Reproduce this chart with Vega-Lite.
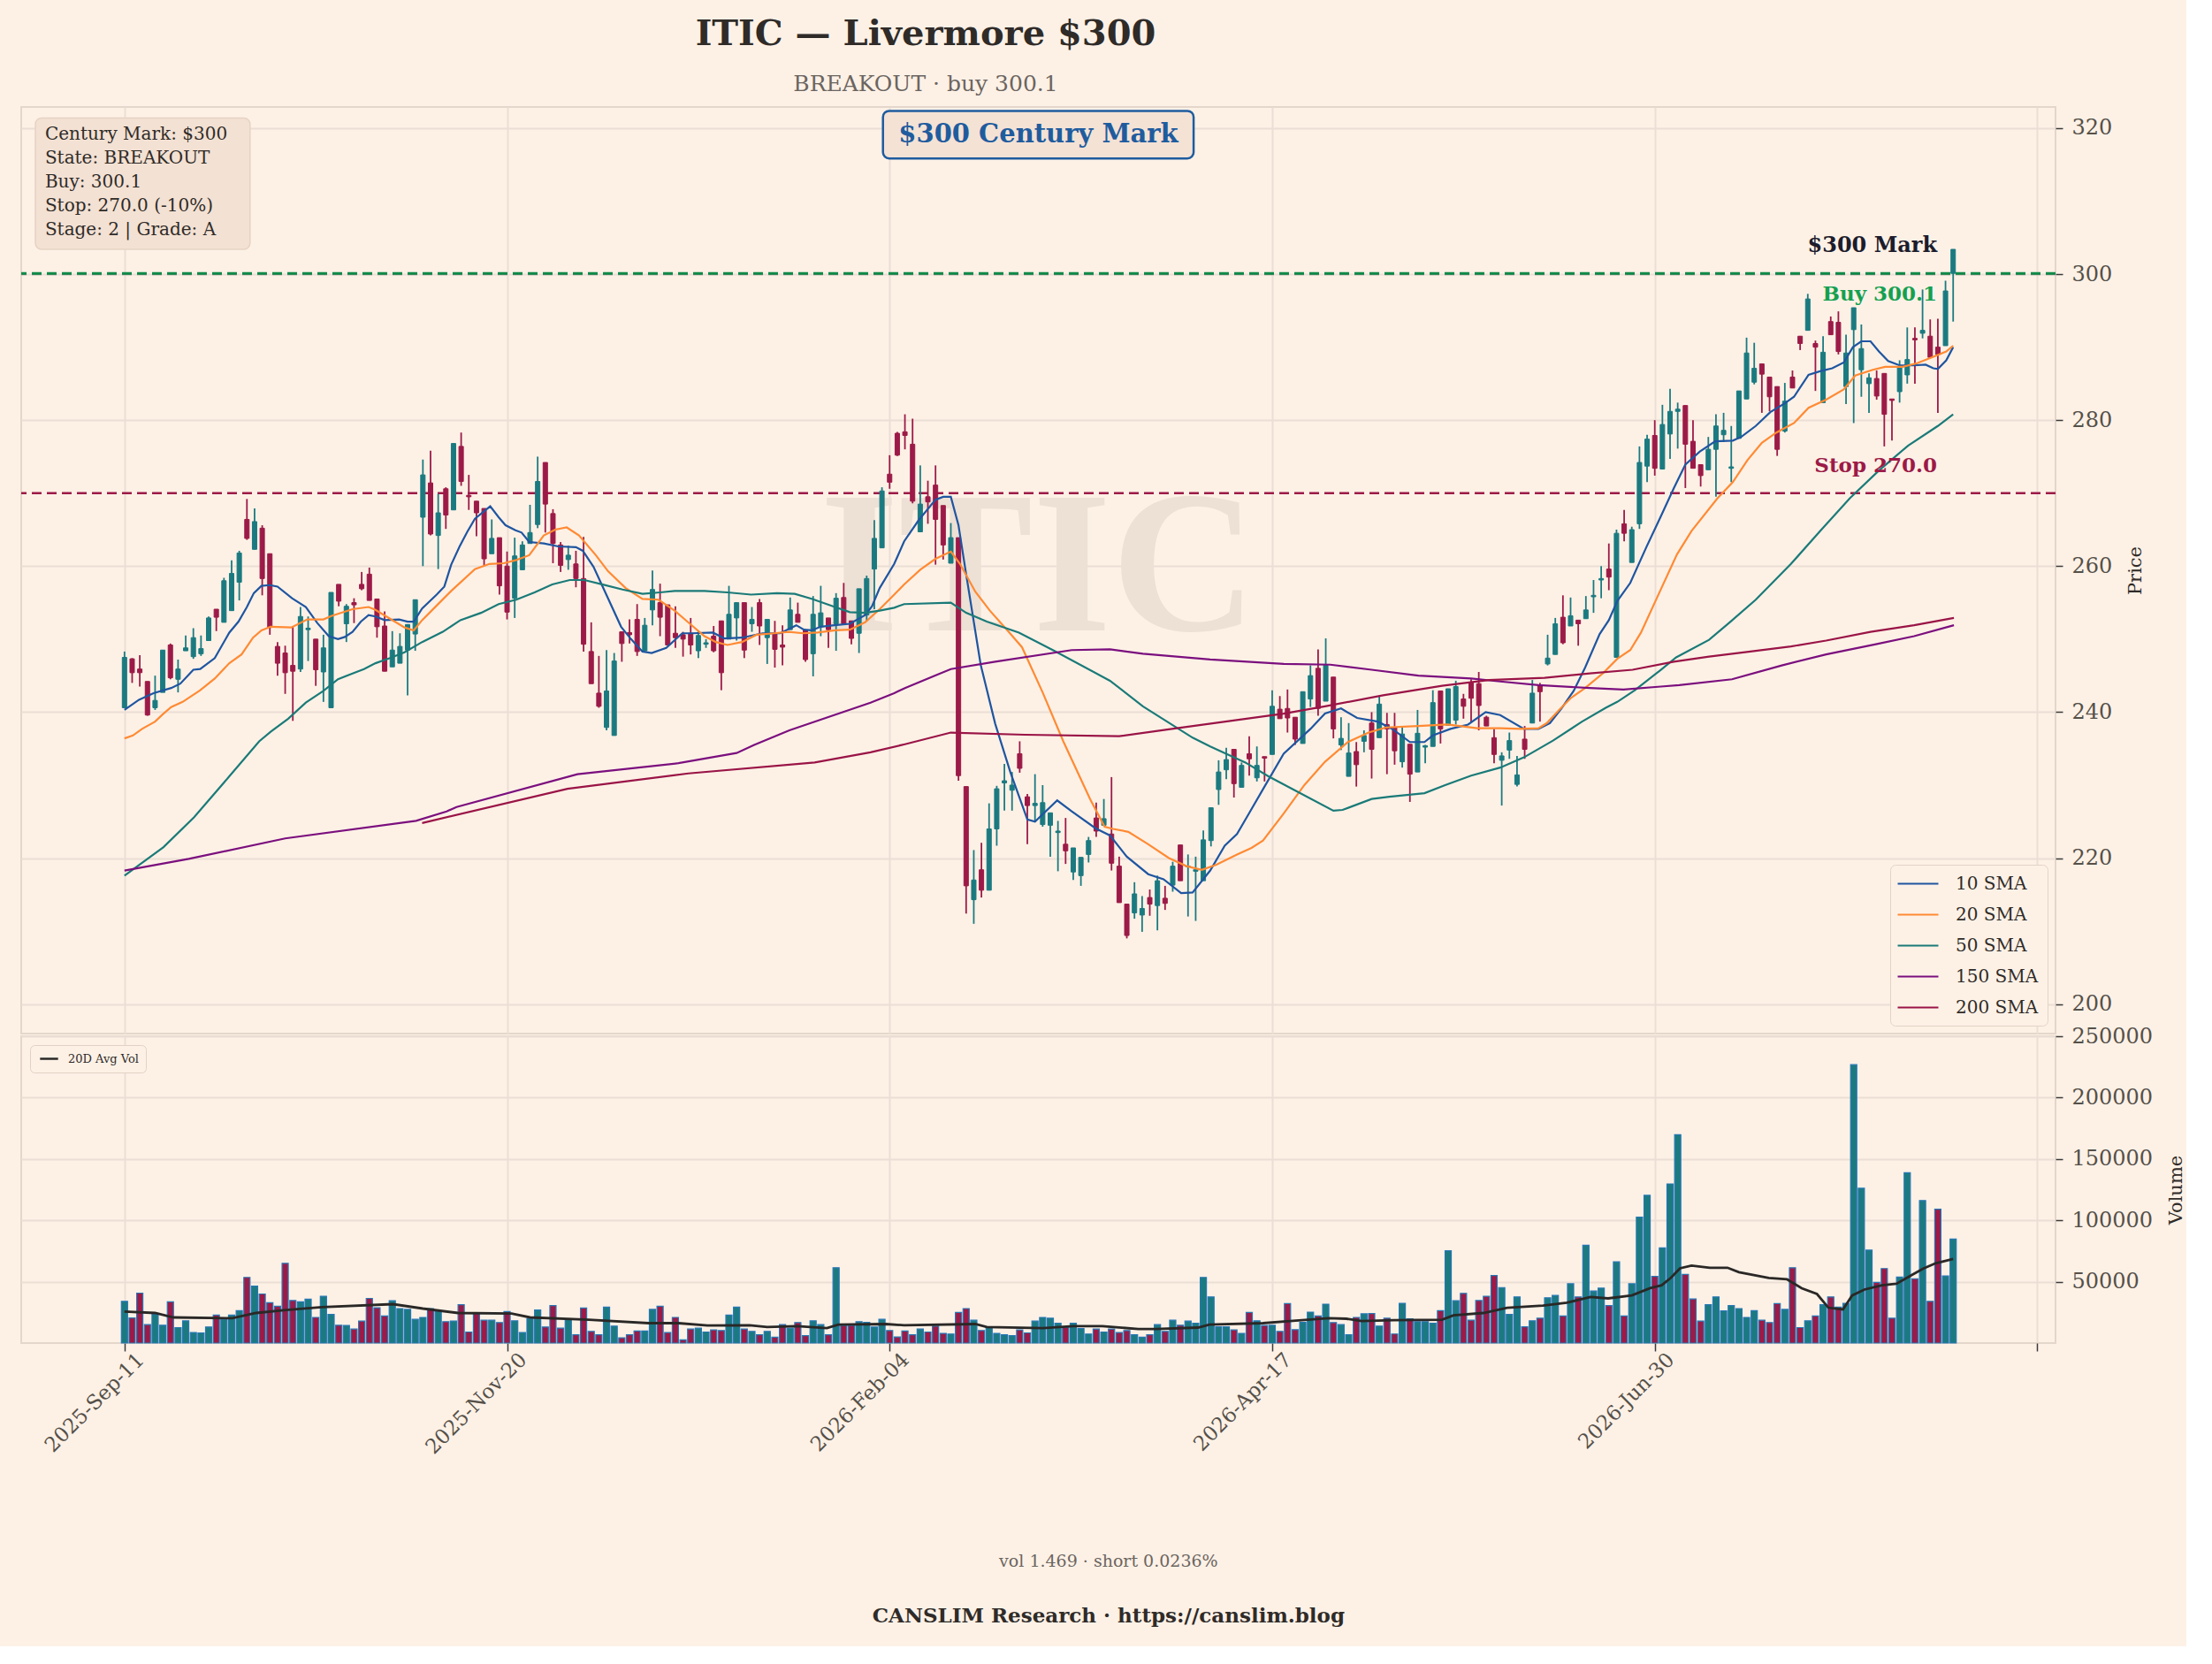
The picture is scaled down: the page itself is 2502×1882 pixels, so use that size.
{
"$schema": "https://vega.github.io/schema/vega-lite/v6.json",
"background": "#fdf1e6",
"padding": {"left": 21, "top": 19, "right": 0, "bottom": 0},
"config": {
 "font": "DejaVu Serif",
 "view": {"stroke": "#e4d6ca", "strokeWidth": 2},
 "axis": {"gridColor": "#ebdfd5", "gridWidth": 2, "labelColor": "#555049", "labelFontSize": 24, "tickColor": "#3a3a3a", "tickWidth": 1.5, "tickSize": 8, "titleColor": "#2f2b28", "titleFontSize": 21, "titleFontWeight": "normal", "labelOverlap": false, "labelFlush": false, "labelBound": false}
},
"title": {"text": "ITIC — Livermore $300", "subtitle": "BREAKOUT · buy 300.1", "anchor": "start", "align": "center", "dx": 1023, "frame": "group", "font": "DejaVu Serif", "fontSize": 40, "fontWeight": "bold", "color": "#2f2b28", "subtitleFont": "DejaVu Serif", "subtitleFontSize": 25, "subtitleColor": "#6b6560", "subtitlePadding": 24, "offset": 12},
"datasets": {
"bars": [
{"i":0,"o":240.6,"h":248.3,"l":240.6,"c":247.5,"v":34000},
{"i":1,"o":247.3,"h":247.4,"l":244.0,"c":245.4,"v":20500},
{"i":2,"o":245.9,"h":247.8,"l":243.5,"c":245.4,"v":40700},
{"i":3,"o":244.2,"h":244.2,"l":239.5,"c":239.6,"v":15000},
{"i":4,"o":240.6,"h":245.0,"l":240.3,"c":241.6,"v":23300},
{"i":5,"o":242.7,"h":248.5,"l":242.7,"c":248.5,"v":14500},
{"i":6,"o":249.2,"h":249.4,"l":244.5,"c":244.7,"v":33600},
{"i":7,"o":244.5,"h":247.2,"l":242.7,"c":245.9,"v":12600},
{"i":8,"o":248.4,"h":250.5,"l":248.4,"c":248.8,"v":18100},
{"i":9,"o":247.6,"h":251.5,"l":247.3,"c":250.2,"v":8600},
{"i":10,"o":248.0,"h":250.5,"l":247.7,"c":248.7,"v":8300},
{"i":11,"o":249.8,"h":253.1,"l":249.8,"c":252.9,"v":13100},
{"i":12,"o":254.1,"h":254.1,"l":251.1,"c":253.0,"v":22800},
{"i":13,"o":252.3,"h":258.4,"l":252.3,"c":258.0,"v":19300},
{"i":14,"o":253.9,"h":260.8,"l":253.9,"c":259.0,"v":22800},
{"i":15,"o":257.8,"h":262.1,"l":255.3,"c":261.8,"v":26400},
{"i":16,"o":266.4,"h":269.2,"l":263.6,"c":263.8,"v":53500},
{"i":17,"o":262.3,"h":267.9,"l":262.3,"c":266.1,"v":46400},
{"i":18,"o":265.2,"h":265.6,"l":256.0,"c":258.3,"v":40000},
{"i":19,"o":261.7,"h":261.7,"l":250.6,"c":251.6,"v":32800},
{"i":20,"o":249.0,"h":249.6,"l":245.0,"c":246.7,"v":30000},
{"i":21,"o":248.1,"h":249.1,"l":242.5,"c":245.4,"v":65000},
{"i":22,"o":246.4,"h":251.8,"l":238.8,"c":245.6,"v":34700},
{"i":23,"o":245.9,"h":254.4,"l":245.5,"c":253.1,"v":33600},
{"i":24,"o":251.3,"h":253.1,"l":247.0,"c":251.5,"v":35700},
{"i":25,"o":250.0,"h":250.0,"l":243.6,"c":245.8,"v":20900},
{"i":26,"o":245.5,"h":250.6,"l":241.4,"c":248.8,"v":38100},
{"i":27,"o":240.6,"h":256.4,"l":240.6,"c":256.4,"v":23300},
{"i":28,"o":257.5,"h":257.5,"l":254.5,"c":255.2,"v":14500},
{"i":29,"o":252.1,"h":254.8,"l":249.6,"c":254.5,"v":14300},
{"i":30,"o":255.0,"h":255.6,"l":252.2,"c":254.7,"v":11400},
{"i":31,"o":257.5,"h":259.2,"l":256.7,"c":256.9,"v":17900},
{"i":32,"o":258.9,"h":259.8,"l":255.3,"c":255.3,"v":36400},
{"i":33,"o":255.5,"h":255.5,"l":250.2,"c":251.7,"v":28800},
{"i":34,"o":251.8,"h":253.8,"l":245.6,"c":245.6,"v":22100},
{"i":35,"o":246.2,"h":251.1,"l":246.2,"c":248.5,"v":34500},
{"i":36,"o":246.7,"h":250.8,"l":246.7,"c":249.0,"v":28100},
{"i":37,"o":248.5,"h":252.0,"l":242.3,"c":252.0,"v":27400},
{"i":38,"o":250.7,"h":255.4,"l":248.4,"c":255.4,"v":19300},
{"i":39,"o":266.7,"h":274.6,"l":260.0,"c":272.5,"v":20900},
{"i":40,"o":271.4,"h":275.8,"l":264.2,"c":264.4,"v":28100},
{"i":41,"o":264.2,"h":269.9,"l":259.6,"c":267.3,"v":25700},
{"i":42,"o":270.6,"h":270.8,"l":265.1,"c":267.0,"v":17400},
{"i":43,"o":267.7,"h":276.8,"l":267.7,"c":276.8,"v":17900},
{"i":44,"o":276.4,"h":278.3,"l":271.0,"c":271.6,"v":31200},
{"i":45,"o":269.7,"h":272.5,"l":267.7,"c":269.5,"v":9000},
{"i":46,"o":268.9,"h":268.9,"l":264.1,"c":267.3,"v":24000},
{"i":47,"o":267.9,"h":267.9,"l":260.0,"c":261.0,"v":18600},
{"i":48,"o":261.7,"h":266.4,"l":261.7,"c":263.8,"v":18600},
{"i":49,"o":263.9,"h":263.9,"l":256.1,"c":257.3,"v":16700},
{"i":50,"o":260.0,"h":262.0,"l":252.7,"c":253.7,"v":25700},
{"i":51,"o":255.6,"h":263.9,"l":252.9,"c":261.4,"v":18100},
{"i":52,"o":259.5,"h":263.4,"l":259.5,"c":262.9,"v":8600},
{"i":53,"o":263.1,"h":268.4,"l":263.1,"c":264.6,"v":19800},
{"i":54,"o":265.7,"h":275.0,"l":265.2,"c":271.6,"v":26900},
{"i":55,"o":274.2,"h":274.2,"l":264.6,"c":268.5,"v":13100},
{"i":56,"o":267.2,"h":267.8,"l":260.4,"c":263.1,"v":30500},
{"i":57,"o":262.9,"h":263.3,"l":259.2,"c":260.1,"v":12100},
{"i":58,"o":260.9,"h":262.8,"l":259.5,"c":261.5,"v":19300},
{"i":59,"o":260.3,"h":262.1,"l":257.1,"c":258.3,"v":6700},
{"i":60,"o":258.3,"h":264.0,"l":248.3,"c":249.3,"v":28600},
{"i":61,"o":248.3,"h":252.3,"l":243.9,"c":243.9,"v":9500},
{"i":62,"o":242.6,"h":247.7,"l":240.6,"c":240.8,"v":6700},
{"i":63,"o":237.9,"h":248.5,"l":237.5,"c":242.9,"v":29300},
{"i":64,"o":236.8,"h":248.1,"l":236.8,"c":247.0,"v":13800},
{"i":65,"o":251.0,"h":251.0,"l":246.9,"c":249.4,"v":4300},
{"i":66,"o":250.9,"h":252.7,"l":249.4,"c":250.6,"v":6700},
{"i":67,"o":252.7,"h":254.8,"l":247.7,"c":248.3,"v":9800},
{"i":68,"o":248.4,"h":252.9,"l":248.4,"c":251.9,"v":9800},
{"i":69,"o":254.0,"h":259.4,"l":251.9,"c":256.8,"v":27400},
{"i":70,"o":255.0,"h":257.6,"l":250.4,"c":253.0,"v":30000},
{"i":71,"o":254.7,"h":254.7,"l":249.2,"c":249.2,"v":8600},
{"i":72,"o":250.8,"h":254.5,"l":248.8,"c":250.2,"v":20900},
{"i":73,"o":250.6,"h":251.0,"l":247.6,"c":250.0,"v":2600},
{"i":74,"o":250.8,"h":252.9,"l":247.9,"c":249.2,"v":11400},
{"i":75,"o":248.4,"h":251.2,"l":247.4,"c":250.5,"v":12100},
{"i":76,"o":249.3,"h":250.0,"l":248.8,"c":249.5,"v":9000},
{"i":77,"o":250.4,"h":251.8,"l":248.2,"c":248.4,"v":10700},
{"i":78,"o":252.5,"h":252.5,"l":243.0,"c":245.4,"v":10200},
{"i":79,"o":250.0,"h":257.3,"l":250.0,"c":253.4,"v":22800},
{"i":80,"o":252.9,"h":255.0,"l":249.8,"c":255.0,"v":29300},
{"i":81,"o":255.0,"h":255.0,"l":247.4,"c":248.5,"v":11400},
{"i":82,"o":252.1,"h":254.4,"l":251.0,"c":252.7,"v":9500},
{"i":83,"o":255.0,"h":255.5,"l":249.2,"c":251.8,"v":6700},
{"i":84,"o":250.2,"h":252.7,"l":246.6,"c":252.7,"v":9500},
{"i":85,"o":250.8,"h":252.5,"l":246.1,"c":248.6,"v":4800},
{"i":86,"o":249.2,"h":251.9,"l":246.4,"c":248.9,"v":15000},
{"i":87,"o":251.3,"h":255.7,"l":251.3,"c":254.0,"v":12100},
{"i":88,"o":253.4,"h":255.0,"l":252.3,"c":252.3,"v":16700},
{"i":89,"o":251.2,"h":251.2,"l":246.9,"c":247.2,"v":6000},
{"i":90,"o":248.0,"h":255.9,"l":244.9,"c":253.4,"v":18100},
{"i":91,"o":251.7,"h":257.3,"l":250.4,"c":253.6,"v":15000},
{"i":92,"o":252.9,"h":252.9,"l":248.8,"c":251.3,"v":6700},
{"i":93,"o":252.1,"h":256.3,"l":248.4,"c":255.6,"v":61400},
{"i":94,"o":255.7,"h":257.7,"l":252.1,"c":252.1,"v":14300},
{"i":95,"o":252.5,"h":252.5,"l":249.3,"c":250.1,"v":14300},
{"i":96,"o":250.8,"h":256.9,"l":248.1,"c":256.9,"v":17400},
{"i":97,"o":253.3,"h":258.7,"l":252.5,"c":258.3,"v":16900},
{"i":98,"o":259.6,"h":266.3,"l":254.1,"c":263.8,"v":13100},
{"i":99,"o":262.5,"h":270.8,"l":262.5,"c":270.3,"v":19300},
{"i":100,"o":272.6,"h":275.2,"l":270.6,"c":271.5,"v":10200},
{"i":101,"o":278.2,"h":278.4,"l":275.1,"c":275.2,"v":5000},
{"i":102,"o":278.4,"h":280.8,"l":276.0,"c":277.9,"v":9800},
{"i":103,"o":276.7,"h":280.2,"l":268.6,"c":268.9,"v":6700},
{"i":104,"o":264.7,"h":273.8,"l":264.7,"c":268.5,"v":11400},
{"i":105,"o":269.5,"h":271.7,"l":265.8,"c":268.8,"v":9000},
{"i":106,"o":271.1,"h":273.8,"l":260.2,"c":266.4,"v":13800},
{"i":107,"o":268.3,"h":268.3,"l":260.9,"c":262.9,"v":7900},
{"i":108,"o":260.4,"h":265.9,"l":260.4,"c":263.9,"v":7400},
{"i":109,"o":263.9,"h":263.9,"l":230.6,"c":231.3,"v":25000},
{"i":110,"o":229.8,"h":229.8,"l":212.4,"c":216.2,"v":28100},
{"i":111,"o":214.3,"h":221.1,"l":211.0,"c":217.0,"v":18600},
{"i":112,"o":218.4,"h":222.1,"l":214.6,"c":215.6,"v":10200},
{"i":113,"o":215.6,"h":227.5,"l":215.6,"c":224.0,"v":12600},
{"i":114,"o":224.0,"h":229.9,"l":221.7,"c":229.5,"v":7900},
{"i":115,"o":230.3,"h":232.9,"l":226.5,"c":230.6,"v":6700},
{"i":116,"o":229.3,"h":231.8,"l":226.5,"c":230.0,"v":6000},
{"i":117,"o":234.3,"h":236.0,"l":231.7,"c":232.3,"v":10700},
{"i":118,"o":228.4,"h":228.8,"l":221.9,"c":227.2,"v":8300},
{"i":119,"o":227.2,"h":231.5,"l":225.0,"c":227.5,"v":17900},
{"i":120,"o":224.6,"h":230.0,"l":224.3,"c":227.6,"v":20900},
{"i":121,"o":224.5,"h":226.2,"l":220.2,"c":226.2,"v":20200},
{"i":122,"o":223.5,"h":225.1,"l":218.2,"c":223.7,"v":16200},
{"i":123,"o":221.9,"h":225.5,"l":219.2,"c":221.0,"v":12600},
{"i":124,"o":218.1,"h":221.4,"l":217.0,"c":221.4,"v":16200},
{"i":125,"o":217.6,"h":220.1,"l":216.2,"c":220.1,"v":11900},
{"i":126,"o":220.5,"h":222.9,"l":219.4,"c":222.4,"v":7400},
{"i":127,"o":225.5,"h":227.6,"l":222.9,"c":223.7,"v":11400},
{"i":128,"o":224.5,"h":228.1,"l":224.5,"c":225.4,"v":9000},
{"i":129,"o":223.3,"h":231.1,"l":218.3,"c":219.3,"v":11400},
{"i":130,"o":218.9,"h":220.2,"l":213.9,"c":213.9,"v":8600},
{"i":131,"o":213.7,"h":213.7,"l":209.0,"c":209.4,"v":10200},
{"i":132,"o":212.5,"h":216.7,"l":211.7,"c":215.1,"v":6700},
{"i":133,"o":212.2,"h":214.8,"l":209.9,"c":213.1,"v":4800},
{"i":134,"o":214.6,"h":215.7,"l":212.1,"c":213.7,"v":6700},
{"i":135,"o":213.5,"h":217.6,"l":210.1,"c":216.9,"v":15000},
{"i":136,"o":214.5,"h":216.2,"l":212.9,"c":213.8,"v":9500},
{"i":137,"o":216.3,"h":219.5,"l":215.4,"c":218.9,"v":18600},
{"i":138,"o":221.8,"h":221.8,"l":216.9,"c":216.9,"v":14500},
{"i":139,"o":218.8,"h":220.5,"l":212.0,"c":218.9,"v":17900},
{"i":140,"o":218.2,"h":220.2,"l":211.4,"c":218.4,"v":16200},
{"i":141,"o":216.9,"h":223.8,"l":216.9,"c":222.5,"v":53500},
{"i":142,"o":222.4,"h":226.9,"l":221.6,"c":226.9,"v":37600},
{"i":143,"o":229.4,"h":233.4,"l":227.3,"c":231.8,"v":13300},
{"i":144,"o":232.1,"h":235.1,"l":230.8,"c":233.5,"v":13300},
{"i":145,"o":234.9,"h":234.9,"l":228.3,"c":230.2,"v":10700},
{"i":146,"o":229.7,"h":233.1,"l":229.7,"c":232.7,"v":7900},
{"i":147,"o":234.3,"h":236.7,"l":231.3,"c":233.6,"v":25000},
{"i":148,"o":231.0,"h":235.3,"l":230.5,"c":232.7,"v":18100},
{"i":149,"o":233.9,"h":233.9,"l":230.5,"c":233.7,"v":14300},
{"i":150,"o":234.2,"h":243.0,"l":234.2,"c":240.8,"v":14500},
{"i":151,"o":240.4,"h":242.2,"l":239.1,"c":239.1,"v":9500},
{"i":152,"o":240.5,"h":243.1,"l":237.2,"c":239.2,"v":32100},
{"i":153,"o":239.3,"h":239.3,"l":235.5,"c":236.3,"v":10900},
{"i":154,"o":235.7,"h":242.8,"l":235.7,"c":242.8,"v":16900},
{"i":155,"o":241.8,"h":246.4,"l":240.7,"c":245.0,"v":25200},
{"i":156,"o":246.0,"h":248.6,"l":239.5,"c":240.5,"v":22100},
{"i":157,"o":241.5,"h":250.1,"l":241.5,"c":246.4,"v":31700},
{"i":158,"o":244.8,"h":244.8,"l":236.4,"c":237.7,"v":16700},
{"i":159,"o":235.5,"h":239.3,"l":234.8,"c":236.4,"v":15000},
{"i":160,"o":231.2,"h":238.5,"l":231.2,"c":234.4,"v":6700},
{"i":161,"o":234.6,"h":235.9,"l":229.8,"c":232.8,"v":20900},
{"i":162,"o":236.0,"h":237.5,"l":234.5,"c":236.8,"v":23800},
{"i":163,"o":238.5,"h":240.0,"l":230.9,"c":234.9,"v":24000},
{"i":164,"o":236.5,"h":242.2,"l":236.5,"c":241.1,"v":13800},
{"i":165,"o":238.3,"h":239.9,"l":231.5,"c":237.7,"v":20200},
{"i":166,"o":237.9,"h":239.9,"l":232.8,"c":234.7,"v":7400},
{"i":167,"o":233.2,"h":238.1,"l":232.4,"c":237.0,"v":32400},
{"i":168,"o":235.6,"h":235.6,"l":227.7,"c":231.5,"v":19800},
{"i":169,"o":231.8,"h":240.3,"l":231.8,"c":237.1,"v":17400},
{"i":170,"o":235.2,"h":235.5,"l":233.0,"c":235.4,"v":17400},
{"i":171,"o":235.3,"h":243.0,"l":235.3,"c":241.3,"v":16200},
{"i":172,"o":242.9,"h":242.9,"l":235.7,"c":237.7,"v":26400},
{"i":173,"o":238.2,"h":243.2,"l":238.2,"c":243.2,"v":75200},
{"i":174,"o":238.9,"h":244.3,"l":238.3,"c":243.5,"v":34500},
{"i":175,"o":241.8,"h":242.5,"l":239.1,"c":240.8,"v":40500},
{"i":176,"o":244.0,"h":244.5,"l":238.6,"c":241.9,"v":18600},
{"i":177,"o":243.9,"h":245.5,"l":237.5,"c":240.9,"v":34700},
{"i":178,"o":239.3,"h":239.5,"l":238.1,"c":238.1,"v":38100},
{"i":179,"o":236.5,"h":237.7,"l":233.0,"c":234.2,"v":55000},
{"i":180,"o":233.4,"h":234.5,"l":227.2,"c":234.0,"v":45200},
{"i":181,"o":234.8,"h":237.2,"l":233.6,"c":236.1,"v":23300},
{"i":182,"o":230.1,"h":234.0,"l":229.8,"c":231.4,"v":37600},
{"i":183,"o":236.3,"h":238.1,"l":233.6,"c":234.9,"v":13300},
{"i":184,"o":238.5,"h":244.4,"l":238.5,"c":242.6,"v":18100},
{"i":185,"o":243.7,"h":244.0,"l":238.7,"c":242.8,"v":20200},
{"i":186,"o":246.6,"h":250.6,"l":246.4,"c":247.4,"v":36900},
{"i":187,"o":247.9,"h":252.9,"l":247.9,"c":252.1,"v":38800},
{"i":188,"o":253.0,"h":256.0,"l":249.3,"c":249.5,"v":22100},
{"i":189,"o":251.8,"h":255.7,"l":251.8,"c":253.2,"v":48300},
{"i":190,"o":252.6,"h":252.6,"l":249.1,"c":252.1,"v":37600},
{"i":191,"o":252.8,"h":255.9,"l":252.8,"c":254.0,"v":79700},
{"i":192,"o":255.8,"h":258.1,"l":253.6,"c":256.0,"v":42400},
{"i":193,"o":258.1,"h":260.0,"l":255.6,"c":258.3,"v":44700},
{"i":194,"o":259.6,"h":263.1,"l":256.7,"c":258.5,"v":30500},
{"i":195,"o":247.5,"h":265.0,"l":247.5,"c":264.5,"v":66200},
{"i":196,"o":265.8,"h":267.7,"l":263.4,"c":264.5,"v":22100},
{"i":197,"o":260.5,"h":265.4,"l":260.5,"c":265.0,"v":48300},
{"i":198,"o":265.8,"h":276.4,"l":265.1,"c":274.2,"v":102600},
{"i":199,"o":273.7,"h":278.0,"l":271.5,"c":277.4,"v":120400},
{"i":200,"o":277.9,"h":280.0,"l":272.4,"c":273.4,"v":54300},
{"i":201,"o":273.3,"h":282.1,"l":273.3,"c":279.4,"v":77600},
{"i":202,"o":278.1,"h":284.3,"l":274.7,"c":281.2,"v":129700},
{"i":203,"o":281.2,"h":282.4,"l":276.1,"c":281.5,"v":169700},
{"i":204,"o":282.0,"h":282.0,"l":270.7,"c":276.7,"v":55900},
{"i":205,"o":277.1,"h":280.0,"l":273.4,"c":273.4,"v":35900},
{"i":206,"o":273.9,"h":273.9,"l":270.9,"c":272.4,"v":17900},
{"i":207,"o":273.2,"h":277.7,"l":273.2,"c":276.0,"v":31200},
{"i":208,"o":276.0,"h":280.8,"l":269.5,"c":279.2,"v":37600},
{"i":209,"o":278.0,"h":281.0,"l":277.0,"c":278.6,"v":26200},
{"i":210,"o":273.4,"h":279.2,"l":271.5,"c":273.6,"v":30500},
{"i":211,"o":277.5,"h":284.0,"l":277.5,"c":284.0,"v":28100},
{"i":212,"o":282.9,"h":291.3,"l":282.9,"c":289.2,"v":20900},
{"i":213,"o":285.2,"h":290.6,"l":284.9,"c":287.1,"v":26400},
{"i":214,"o":287.7,"h":287.7,"l":281.0,"c":286.3,"v":18600},
{"i":215,"o":285.9,"h":285.9,"l":281.2,"c":283.2,"v":16700},
{"i":216,"o":284.6,"h":284.6,"l":275.1,"c":276.0,"v":32100},
{"i":217,"o":278.5,"h":285.1,"l":278.3,"c":282.6,"v":27400},
{"i":218,"o":285.9,"h":286.8,"l":284.4,"c":284.4,"v":61400},
{"i":219,"o":291.5,"h":291.5,"l":289.6,"c":290.5,"v":12600},
{"i":220,"o":292.3,"h":297.3,"l":292.3,"c":296.6,"v":18100},
{"i":221,"o":290.5,"h":290.9,"l":284.0,"c":290.0,"v":22100},
{"i":222,"o":282.4,"h":291.5,"l":282.4,"c":289.3,"v":31200},
{"i":223,"o":293.5,"h":294.2,"l":291.7,"c":291.7,"v":37600},
{"i":224,"o":293.4,"h":294.9,"l":289.0,"c":289.4,"v":29300},
{"i":225,"o":284.6,"h":291.7,"l":282.2,"c":289.2,"v":32400},
{"i":226,"o":292.4,"h":295.4,"l":279.6,"c":295.4,"v":226800},
{"i":227,"o":286.9,"h":293.1,"l":283.2,"c":289.8,"v":126100},
{"i":228,"o":285.0,"h":286.4,"l":281.0,"c":285.8,"v":75700},
{"i":229,"o":285.7,"h":286.8,"l":282.8,"c":283.3,"v":49500},
{"i":230,"o":286.4,"h":286.4,"l":276.4,"c":280.8,"v":60700},
{"i":231,"o":282.9,"h":282.9,"l":277.2,"c":282.7,"v":20200},
{"i":232,"o":283.9,"h":288.2,"l":282.4,"c":287.2,"v":53800},
{"i":233,"o":286.2,"h":292.7,"l":285.0,"c":288.3,"v":138800},
{"i":234,"o":291.2,"h":292.7,"l":285.0,"c":291.0,"v":52400},
{"i":235,"o":291.9,"h":297.9,"l":291.2,"c":292.3,"v":116100},
{"i":236,"o":291.5,"h":293.8,"l":288.6,"c":288.6,"v":34000},
{"i":237,"o":290.0,"h":293.9,"l":281.0,"c":289.0,"v":109000},
{"i":238,"o":290.2,"h":299.1,"l":290.2,"c":297.7,"v":54700},
{"i":239,"o":300.1,"h":303.4,"l":293.5,"c":303.4,"v":84700}
],
"sma": [
{"s":"10 SMA","i":0,"v":240.3},{"s":"10 SMA","i":1.9,"v":241.7},{"s":"10 SMA","i":3.8,"v":242.6},{"s":"10 SMA","i":6.1,"v":243.3},{"s":"10 SMA","i":7.3,"v":243.9},{"s":"10 SMA","i":9,"v":245.8},{"s":"10 SMA","i":9.9,"v":245.9},{"s":"10 SMA","i":11.8,"v":247.4},{"s":"10 SMA","i":13.7,"v":250.9},{"s":"10 SMA","i":14.9,"v":252.4},{"s":"10 SMA","i":16,"v":254.4},{"s":"10 SMA","i":16.9,"v":256.3},{"s":"10 SMA","i":17.9,"v":257.3},{"s":"10 SMA","i":19,"v":257.4},{"s":"10 SMA","i":20,"v":257.2},{"s":"10 SMA","i":21.9,"v":255.6},{"s":"10 SMA","i":23.7,"v":254.4},{"s":"10 SMA","i":25.2,"v":252.2},{"s":"10 SMA","i":26.7,"v":250.4},{"s":"10 SMA","i":27.9,"v":250.0},{"s":"10 SMA","i":28.8,"v":250.3},{"s":"10 SMA","i":29.8,"v":251.0},{"s":"10 SMA","i":30.9,"v":252.4},{"s":"10 SMA","i":31.9,"v":253.3},{"s":"10 SMA","i":32.8,"v":253.1},{"s":"10 SMA","i":34,"v":252.6},{"s":"10 SMA","i":35.9,"v":252.7},{"s":"10 SMA","i":37,"v":252.4},{"s":"10 SMA","i":37.8,"v":252.4},{"s":"10 SMA","i":38.9,"v":254.2},{"s":"10 SMA","i":40.8,"v":256.1},{"s":"10 SMA","i":41.8,"v":257.2},{"s":"10 SMA","i":42.7,"v":260.2},{"s":"10 SMA","i":43.8,"v":262.7},{"s":"10 SMA","i":44.8,"v":264.7},{"s":"10 SMA","i":45.8,"v":266.5},{"s":"10 SMA","i":47.8,"v":268.2},{"s":"10 SMA","i":48.9,"v":266.7},{"s":"10 SMA","i":49.8,"v":265.6},{"s":"10 SMA","i":51.1,"v":264.9},{"s":"10 SMA","i":51.9,"v":264.6},{"s":"10 SMA","i":52.9,"v":263.3},{"s":"10 SMA","i":54.8,"v":263.1},{"s":"10 SMA","i":56.7,"v":262.7},{"s":"10 SMA","i":59,"v":262.6},{"s":"10 SMA","i":59.9,"v":262.1},{"s":"10 SMA","i":61.3,"v":259.9},{"s":"10 SMA","i":62.8,"v":256.5},{"s":"10 SMA","i":64.9,"v":251.7},{"s":"10 SMA","i":66.2,"v":250.0},{"s":"10 SMA","i":67.7,"v":248.3},{"s":"10 SMA","i":68.9,"v":248.1},{"s":"10 SMA","i":70.8,"v":248.8},{"s":"10 SMA","i":72.9,"v":250.8},{"s":"10 SMA","i":74.2,"v":250.8},{"s":"10 SMA","i":76.9,"v":250.9},{"s":"10 SMA","i":78.4,"v":250.1},{"s":"10 SMA","i":80.7,"v":250.2},{"s":"10 SMA","i":83.4,"v":250.8},{"s":"10 SMA","i":85.7,"v":250.8},{"s":"10 SMA","i":87.8,"v":251.9},{"s":"10 SMA","i":88.8,"v":251.3},{"s":"10 SMA","i":89.8,"v":251.2},{"s":"10 SMA","i":91,"v":251.7},{"s":"10 SMA","i":92.8,"v":251.9},{"s":"10 SMA","i":94.8,"v":252.1},{"s":"10 SMA","i":96.8,"v":253.3},{"s":"10 SMA","i":97.7,"v":254.5},{"s":"10 SMA","i":98.7,"v":257.0},{"s":"10 SMA","i":100.6,"v":260.3},{"s":"10 SMA","i":101.9,"v":263.4},{"s":"10 SMA","i":103.8,"v":266.3},{"s":"10 SMA","i":106,"v":269.1},{"s":"10 SMA","i":107,"v":269.5},{"s":"10 SMA","i":108,"v":269.5},{"s":"10 SMA","i":109,"v":265.6},{"s":"10 SMA","i":110,"v":258.9},{"s":"10 SMA","i":111.9,"v":246.5},{"s":"10 SMA","i":113.8,"v":238.4},{"s":"10 SMA","i":115.8,"v":231.7},{"s":"10 SMA","i":118,"v":225.3},{"s":"10 SMA","i":119,"v":225.0},{"s":"10 SMA","i":121.9,"v":227.9},{"s":"10 SMA","i":123.8,"v":226.4},{"s":"10 SMA","i":126.9,"v":224.1},{"s":"10 SMA","i":128.8,"v":223.1},{"s":"10 SMA","i":131,"v":220.2},{"s":"10 SMA","i":133.8,"v":217.8},{"s":"10 SMA","i":135.8,"v":217.1},{"s":"10 SMA","i":138.1,"v":215.2},{"s":"10 SMA","i":139.6,"v":215.3},{"s":"10 SMA","i":141.9,"v":218.3},{"s":"10 SMA","i":143.8,"v":221.7},{"s":"10 SMA","i":145.4,"v":223.3},{"s":"10 SMA","i":146.9,"v":226.0},{"s":"10 SMA","i":149,"v":229.8},{"s":"10 SMA","i":151.5,"v":234.3},{"s":"10 SMA","i":155,"v":237.7},{"s":"10 SMA","i":156.9,"v":239.8},{"s":"10 SMA","i":159,"v":240.5},{"s":"10 SMA","i":161.1,"v":239.2},{"s":"10 SMA","i":163.8,"v":238.7},{"s":"10 SMA","i":165.7,"v":237.7},{"s":"10 SMA","i":168,"v":235.9},{"s":"10 SMA","i":169.9,"v":235.9},{"s":"10 SMA","i":171,"v":236.8},{"s":"10 SMA","i":173.3,"v":237.7},{"s":"10 SMA","i":175.6,"v":238.3},{"s":"10 SMA","i":177.9,"v":240.0},{"s":"10 SMA","i":179.8,"v":239.6},{"s":"10 SMA","i":182.9,"v":237.7},{"s":"10 SMA","i":184.8,"v":237.7},{"s":"10 SMA","i":186.3,"v":238.5},{"s":"10 SMA","i":187.8,"v":240.5},{"s":"10 SMA","i":189.4,"v":242.9},{"s":"10 SMA","i":190.9,"v":246.1},{"s":"10 SMA","i":192.8,"v":250.7},{"s":"10 SMA","i":194,"v":252.6},{"s":"10 SMA","i":195.1,"v":255.2},{"s":"10 SMA","i":196.8,"v":257.7},{"s":"10 SMA","i":198.9,"v":262.6},{"s":"10 SMA","i":200.7,"v":266.6},{"s":"10 SMA","i":202.5,"v":270.7},{"s":"10 SMA","i":204,"v":273.9},{"s":"10 SMA","i":205.9,"v":275.7},{"s":"10 SMA","i":207.9,"v":277.1},{"s":"10 SMA","i":210.2,"v":277.2},{"s":"10 SMA","i":211.3,"v":277.7},{"s":"10 SMA","i":213.2,"v":279.2},{"s":"10 SMA","i":215.1,"v":281.1},{"s":"10 SMA","i":217,"v":282.3},{"s":"10 SMA","i":218.2,"v":283.2},{"s":"10 SMA","i":220.1,"v":286.2},{"s":"10 SMA","i":221.6,"v":286.7},{"s":"10 SMA","i":223.2,"v":287.1},{"s":"10 SMA","i":224.7,"v":287.9},{"s":"10 SMA","i":225.9,"v":290.0},{"s":"10 SMA","i":227,"v":290.8},{"s":"10 SMA","i":228.2,"v":290.8},{"s":"10 SMA","i":229.3,"v":289.4},{"s":"10 SMA","i":230.5,"v":288.1},{"s":"10 SMA","i":232,"v":287.5},{"s":"10 SMA","i":233.9,"v":287.5},{"s":"10 SMA","i":235.4,"v":287.6},{"s":"10 SMA","i":236.4,"v":287.1},{"s":"10 SMA","i":237,"v":287.0},{"s":"10 SMA","i":238.1,"v":288.2},{"s":"10 SMA","i":239,"v":290.0},
{"s":"20 SMA","i":0,"v":236.4},{"s":"20 SMA","i":1.1,"v":236.8},{"s":"20 SMA","i":2.3,"v":237.7},{"s":"20 SMA","i":4,"v":238.7},{"s":"20 SMA","i":5,"v":239.7},{"s":"20 SMA","i":6.1,"v":240.7},{"s":"20 SMA","i":7.6,"v":241.4},{"s":"20 SMA","i":9.9,"v":243.0},{"s":"20 SMA","i":11.8,"v":244.6},{"s":"20 SMA","i":13.7,"v":246.7},{"s":"20 SMA","i":15.3,"v":247.9},{"s":"20 SMA","i":16.8,"v":250.2},{"s":"20 SMA","i":17.9,"v":251.2},{"s":"20 SMA","i":19.1,"v":251.7},{"s":"20 SMA","i":21.8,"v":251.6},{"s":"20 SMA","i":23.9,"v":252.7},{"s":"20 SMA","i":26,"v":252.7},{"s":"20 SMA","i":27.1,"v":253.2},{"s":"20 SMA","i":29.8,"v":254.1},{"s":"20 SMA","i":31.9,"v":254.4},{"s":"20 SMA","i":32.8,"v":254.0},{"s":"20 SMA","i":34.7,"v":252.8},{"s":"20 SMA","i":36.6,"v":251.6},{"s":"20 SMA","i":37.8,"v":251.2},{"s":"20 SMA","i":38.9,"v":252.6},{"s":"20 SMA","i":40.8,"v":254.6},{"s":"20 SMA","i":42.7,"v":256.6},{"s":"20 SMA","i":45.8,"v":259.6},{"s":"20 SMA","i":47.7,"v":260.3},{"s":"20 SMA","i":49.6,"v":260.4},{"s":"20 SMA","i":51.1,"v":260.8},{"s":"20 SMA","i":52.9,"v":261.5},{"s":"20 SMA","i":54.8,"v":264.2},{"s":"20 SMA","i":56.3,"v":265.0},{"s":"20 SMA","i":57.8,"v":265.3},{"s":"20 SMA","i":59.4,"v":264.2},{"s":"20 SMA","i":61.6,"v":261.5},{"s":"20 SMA","i":63.2,"v":259.3},{"s":"20 SMA","i":65.5,"v":257.0},{"s":"20 SMA","i":67.7,"v":255.5},{"s":"20 SMA","i":69.8,"v":255.4},{"s":"20 SMA","i":71.9,"v":253.9},{"s":"20 SMA","i":73.9,"v":252.1},{"s":"20 SMA","i":75.8,"v":250.4},{"s":"20 SMA","i":77.3,"v":249.6},{"s":"20 SMA","i":78.8,"v":249.2},{"s":"20 SMA","i":80.7,"v":249.6},{"s":"20 SMA","i":82.6,"v":250.6},{"s":"20 SMA","i":84.9,"v":250.8},{"s":"20 SMA","i":86.8,"v":251.0},{"s":"20 SMA","i":88.7,"v":250.8},{"s":"20 SMA","i":90.6,"v":250.9},{"s":"20 SMA","i":92.9,"v":251.2},{"s":"20 SMA","i":94.8,"v":251.3},{"s":"20 SMA","i":96.8,"v":252.3},{"s":"20 SMA","i":98.7,"v":254.1},{"s":"20 SMA","i":100.6,"v":256.1},{"s":"20 SMA","i":101.9,"v":257.5},{"s":"20 SMA","i":104,"v":259.5},{"s":"20 SMA","i":106,"v":261.0},{"s":"20 SMA","i":108,"v":262.0},{"s":"20 SMA","i":109.2,"v":260.3},{"s":"20 SMA","i":111.2,"v":256.5},{"s":"20 SMA","i":113.1,"v":253.9},{"s":"20 SMA","i":115.4,"v":251.2},{"s":"20 SMA","i":117.3,"v":248.9},{"s":"20 SMA","i":120,"v":242.7},{"s":"20 SMA","i":122.7,"v":236.0},{"s":"20 SMA","i":126.2,"v":228.1},{"s":"20 SMA","i":128.1,"v":224.3},{"s":"20 SMA","i":129.2,"v":224.0},{"s":"20 SMA","i":131.2,"v":223.6},{"s":"20 SMA","i":133.8,"v":221.9},{"s":"20 SMA","i":136.5,"v":220.0},{"s":"20 SMA","i":138.8,"v":218.9},{"s":"20 SMA","i":140.8,"v":218.4},{"s":"20 SMA","i":142.7,"v":219.1},{"s":"20 SMA","i":145.4,"v":220.5},{"s":"20 SMA","i":147.3,"v":221.4},{"s":"20 SMA","i":148.8,"v":222.4},{"s":"20 SMA","i":151.5,"v":226.1},{"s":"20 SMA","i":154.2,"v":230.0},{"s":"20 SMA","i":156.9,"v":233.2},{"s":"20 SMA","i":159.9,"v":235.9},{"s":"20 SMA","i":162.6,"v":237.2},{"s":"20 SMA","i":164.9,"v":237.9},{"s":"20 SMA","i":169.1,"v":238.1},{"s":"20 SMA","i":172.9,"v":238.3},{"s":"20 SMA","i":176.8,"v":237.8},{"s":"20 SMA","i":179.8,"v":237.8},{"s":"20 SMA","i":182.5,"v":237.7},{"s":"20 SMA","i":184.8,"v":237.8},{"s":"20 SMA","i":185.9,"v":238.5},{"s":"20 SMA","i":187.5,"v":240.3},{"s":"20 SMA","i":189,"v":241.9},{"s":"20 SMA","i":190.9,"v":243.3},{"s":"20 SMA","i":193.2,"v":245.3},{"s":"20 SMA","i":195.1,"v":247.3},{"s":"20 SMA","i":196.8,"v":248.5},{"s":"20 SMA","i":198.2,"v":250.9},{"s":"20 SMA","i":200.7,"v":256.6},{"s":"20 SMA","i":202.9,"v":261.6},{"s":"20 SMA","i":204.8,"v":264.8},{"s":"20 SMA","i":208.2,"v":269.3},{"s":"20 SMA","i":210.2,"v":271.5},{"s":"20 SMA","i":212.1,"v":274.5},{"s":"20 SMA","i":214,"v":276.9},{"s":"20 SMA","i":215.9,"v":278.3},{"s":"20 SMA","i":218.2,"v":279.6},{"s":"20 SMA","i":220.1,"v":281.7},{"s":"20 SMA","i":222.4,"v":282.8},{"s":"20 SMA","i":224.7,"v":284.2},{"s":"20 SMA","i":226.2,"v":286.1},{"s":"20 SMA","i":228.5,"v":286.9},{"s":"20 SMA","i":230.1,"v":287.3},{"s":"20 SMA","i":232.4,"v":287.3},{"s":"20 SMA","i":234.3,"v":287.8},{"s":"20 SMA","i":236.2,"v":288.6},{"s":"20 SMA","i":238.1,"v":289.4},{"s":"20 SMA","i":239,"v":290.2},
{"s":"50 SMA","i":0,"v":217.6},{"s":"50 SMA","i":5.1,"v":221.5},{"s":"50 SMA","i":9.1,"v":225.6},{"s":"50 SMA","i":13.7,"v":231.2},{"s":"50 SMA","i":17.6,"v":236.0},{"s":"50 SMA","i":19.1,"v":237.3},{"s":"50 SMA","i":21.4,"v":239.1},{"s":"50 SMA","i":23.7,"v":241.3},{"s":"50 SMA","i":26,"v":242.9},{"s":"50 SMA","i":27.9,"v":244.5},{"s":"50 SMA","i":29.8,"v":245.3},{"s":"50 SMA","i":31.3,"v":245.9},{"s":"50 SMA","i":32.8,"v":246.7},{"s":"50 SMA","i":34.7,"v":247.4},{"s":"50 SMA","i":36.6,"v":248.2},{"s":"50 SMA","i":38.9,"v":249.6},{"s":"50 SMA","i":41.6,"v":251.0},{"s":"50 SMA","i":43.9,"v":252.6},{"s":"50 SMA","i":46.6,"v":253.6},{"s":"50 SMA","i":48.9,"v":254.8},{"s":"50 SMA","i":51.2,"v":255.4},{"s":"50 SMA","i":53.6,"v":256.4},{"s":"50 SMA","i":55.9,"v":257.5},{"s":"50 SMA","i":58.2,"v":258.1},{"s":"50 SMA","i":60.1,"v":258.1},{"s":"50 SMA","i":62.4,"v":257.5},{"s":"50 SMA","i":65.1,"v":256.8},{"s":"50 SMA","i":67.7,"v":256.2},{"s":"50 SMA","i":70,"v":256.4},{"s":"50 SMA","i":71.9,"v":256.6},{"s":"50 SMA","i":75.8,"v":256.6},{"s":"50 SMA","i":78.8,"v":256.4},{"s":"50 SMA","i":81.9,"v":256.1},{"s":"50 SMA","i":85.3,"v":256.3},{"s":"50 SMA","i":87.6,"v":256.2},{"s":"50 SMA","i":89.9,"v":255.5},{"s":"50 SMA","i":92.6,"v":254.5},{"s":"50 SMA","i":94.8,"v":253.7},{"s":"50 SMA","i":96.8,"v":253.6},{"s":"50 SMA","i":98.7,"v":253.9},{"s":"50 SMA","i":100.6,"v":254.3},{"s":"50 SMA","i":101.9,"v":254.8},{"s":"50 SMA","i":108,"v":255.0},{"s":"50 SMA","i":110,"v":253.6},{"s":"50 SMA","i":112.7,"v":252.4},{"s":"50 SMA","i":116.9,"v":250.9},{"s":"50 SMA","i":121.5,"v":248.4},{"s":"50 SMA","i":128.8,"v":244.3},{"s":"50 SMA","i":133.1,"v":240.8},{"s":"50 SMA","i":139.6,"v":236.5},{"s":"50 SMA","i":141.9,"v":235.3},{"s":"50 SMA","i":146.5,"v":233.1},{"s":"50 SMA","i":149.5,"v":231.2},{"s":"50 SMA","i":153.1,"v":229.2},{"s":"50 SMA","i":158,"v":226.5},{"s":"50 SMA","i":159.2,"v":226.6},{"s":"50 SMA","i":163,"v":228.1},{"s":"50 SMA","i":165.3,"v":228.4},{"s":"50 SMA","i":169.9,"v":228.9},{"s":"50 SMA","i":172.6,"v":230.0},{"s":"50 SMA","i":176,"v":231.3},{"s":"50 SMA","i":179.8,"v":232.4},{"s":"50 SMA","i":182.9,"v":233.8},{"s":"50 SMA","i":186.7,"v":236.1},{"s":"50 SMA","i":190.5,"v":238.7},{"s":"50 SMA","i":193.6,"v":240.6},{"s":"50 SMA","i":195.1,"v":241.4},{"s":"50 SMA","i":197.4,"v":243.0},{"s":"50 SMA","i":200.8,"v":245.8},{"s":"50 SMA","i":202.8,"v":247.5},{"s":"50 SMA","i":207.1,"v":249.9},{"s":"50 SMA","i":209.8,"v":252.3},{"s":"50 SMA","i":213.2,"v":255.4},{"s":"50 SMA","i":217.8,"v":260.3},{"s":"50 SMA","i":221.6,"v":264.8},{"s":"50 SMA","i":225.5,"v":269.3},{"s":"50 SMA","i":229.3,"v":273.1},{"s":"50 SMA","i":233.1,"v":276.5},{"s":"50 SMA","i":237,"v":279.2},{"s":"50 SMA","i":239,"v":280.8},
{"s":"150 SMA","i":0,"v":218.3},{"s":"150 SMA","i":8.4,"v":219.9},{"s":"150 SMA","i":21,"v":222.7},{"s":"150 SMA","i":38.1,"v":225.1},{"s":"150 SMA","i":42.1,"v":226.4},{"s":"150 SMA","i":43.4,"v":227.0},{"s":"150 SMA","i":59.2,"v":231.5},{"s":"150 SMA","i":72.4,"v":233.0},{"s":"150 SMA","i":80,"v":234.4},{"s":"150 SMA","i":82.3,"v":235.5},{"s":"150 SMA","i":86.9,"v":237.5},{"s":"150 SMA","i":97.5,"v":241.3},{"s":"150 SMA","i":100.6,"v":242.6},{"s":"150 SMA","i":102,"v":243.3},{"s":"150 SMA","i":108,"v":245.9},{"s":"150 SMA","i":113.8,"v":246.9},{"s":"150 SMA","i":123.8,"v":248.5},{"s":"150 SMA","i":128.8,"v":248.6},{"s":"150 SMA","i":133.1,"v":248.0},{"s":"150 SMA","i":141.9,"v":247.2},{"s":"150 SMA","i":151.5,"v":246.6},{"s":"150 SMA","i":157.6,"v":246.5},{"s":"150 SMA","i":163,"v":245.8},{"s":"150 SMA","i":169.1,"v":245.0},{"s":"150 SMA","i":176,"v":244.6},{"s":"150 SMA","i":179.8,"v":244.2},{"s":"150 SMA","i":184.8,"v":243.7},{"s":"150 SMA","i":191.5,"v":243.3},{"s":"150 SMA","i":195.9,"v":243.1},{"s":"150 SMA","i":200.8,"v":243.5},{"s":"150 SMA","i":203.2,"v":243.7},{"s":"150 SMA","i":210.1,"v":244.5},{"s":"150 SMA","i":216.6,"v":246.4},{"s":"150 SMA","i":222.4,"v":247.9},{"s":"150 SMA","i":228.9,"v":249.3},{"s":"150 SMA","i":233.9,"v":250.4},{"s":"150 SMA","i":239.1,"v":251.9},
{"s":"200 SMA","i":38.9,"v":224.8},{"s":"200 SMA","i":57.9,"v":229.5},{"s":"200 SMA","i":73.7,"v":231.6},{"s":"200 SMA","i":90.2,"v":233.1},{"s":"200 SMA","i":97.5,"v":234.5},{"s":"200 SMA","i":102,"v":235.6},{"s":"200 SMA","i":108,"v":237.2},{"s":"200 SMA","i":117.7,"v":236.9},{"s":"200 SMA","i":130,"v":236.7},{"s":"200 SMA","i":136.9,"v":237.7},{"s":"200 SMA","i":151.5,"v":239.8},{"s":"200 SMA","i":156.9,"v":240.8},{"s":"200 SMA","i":164.5,"v":242.3},{"s":"200 SMA","i":172.2,"v":243.6},{"s":"200 SMA","i":178.3,"v":244.4},{"s":"200 SMA","i":185.6,"v":244.7},{"s":"200 SMA","i":191.5,"v":245.3},{"s":"200 SMA","i":197.1,"v":245.8},{"s":"200 SMA","i":202.5,"v":246.9},{"s":"200 SMA","i":207.1,"v":247.6},{"s":"200 SMA","i":212.5,"v":248.3},{"s":"200 SMA","i":217.8,"v":249.0},{"s":"200 SMA","i":222.4,"v":249.8},{"s":"200 SMA","i":228.2,"v":251.0},{"s":"200 SMA","i":233.9,"v":251.9},{"s":"200 SMA","i":239.1,"v":252.9}
],
"avgvol": [
{"i":0,"a":25700},{"i":4,"a":24500},{"i":6.4,"a":20900},{"i":14.1,"a":20200},{"i":17.2,"a":24500},{"i":21.1,"a":26900},{"i":25.8,"a":29300},{"i":35.1,"a":31700},{"i":39,"a":28100},{"i":43.6,"a":24500},{"i":50.6,"a":24000},{"i":53,"a":20900},{"i":60.7,"a":19000},{"i":68.5,"a":16200},{"i":72.4,"a":16200},{"i":76.2,"a":14300},{"i":81.7,"a":14500},{"i":84,"a":13100},{"i":87.9,"a":13800},{"i":91.8,"a":12100},{"i":93.3,"a":15000},{"i":99.5,"a":15500},{"i":101.9,"a":14500},{"i":111.2,"a":15500},{"i":112.7,"a":13100},{"i":120,"a":12100},{"i":124,"a":13800},{"i":127.8,"a":13800},{"i":132.5,"a":11400},{"i":134.8,"a":11400},{"i":140.3,"a":12600},{"i":141.8,"a":15000},{"i":148.8,"a":16200},{"i":152.7,"a":18100},{"i":157.4,"a":20200},{"i":159.7,"a":19800},{"i":161.7,"a":17900},{"i":165.9,"a":18600},{"i":172.2,"a":19000},{"i":173.7,"a":22600},{"i":177.6,"a":24500},{"i":180.7,"a":28800},{"i":185.4,"a":30500},{"i":188.5,"a":32800},{"i":191.6,"a":37600},{"i":193.9,"a":36400},{"i":197,"a":38800},{"i":199.4,"a":44700},{"i":200.9,"a":47100},{"i":202.1,"a":53100},{"i":203.3,"a":60900},{"i":204.8,"a":63100},{"i":207.2,"a":61400},{"i":209.5,"a":61400},{"i":211,"a":57800},{"i":214.9,"a":53100},{"i":217.3,"a":51900},{"i":219.2,"a":44700},{"i":221.2,"a":40000},{"i":222.7,"a":28800},{"i":224.6,"a":27400},{"i":225.8,"a":38800},{"i":227.4,"a":43600},{"i":229.7,"a":47100},{"i":231.6,"a":48300},{"i":233.6,"a":55500},{"i":235.1,"a":60700},{"i":236.7,"a":65000},{"i":239,"a":68500}
]
},
"resolve": {"scale": {"x": "independent", "y": "independent", "color": "independent", "strokeWidth": "independent"}, "axis": {"x": "independent", "y": "independent"}, "legend": {"color": "independent"}},
"bounds": "flush",
"spacing": 3,
"vconcat": [
{
 "width": 2301, "height": 1048,
 "layer": [
  {"data": {"values": [{}]}, "mark": {"type": "text", "text": "ITIC", "font": "Liberation Serif", "fontWeight": "bold", "fontSize": 228, "color": "#ede0d5", "align": "center", "baseline": "middle"},
   "encoding": {"x": {"datum": 119.44, "type": "quantitative", "scale": {"domain": [-12.92, 251.8], "nice": false, "zero": false}, "axis": {"values": [0,50,100,150,200,250], "labels": false, "ticks": false, "domain": false, "grid": true, "title": null}},
                "y": {"datum": 259.43, "type": "quantitative", "scale": {"domain": [195.96, 322.9], "nice": false, "zero": false}, "axis": {"orient": "right", "values": [200,220,240,260,280,300,320], "grid": true, "domain": false, "title": "Price", "titleAngle": 270, "titleBaseline": "top", "titlePadding": 16, "labelPadding": 10}}}},
  {"data": {"values": [{}]}, "mark": {"type": "rect", "fill": "#f3e1d3", "stroke": "#e6d3c4", "strokeWidth": 1.5, "cornerRadius": 7},
   "encoding": {"x": {"datum": -11.65, "type": "quantitative"}, "x2": {"datum": 16.41},
                "y": {"datum": 321.4, "type": "quantitative"}, "y2": {"datum": 303.4}}},
  {"data": {"values": [{}]}, "mark": {"type": "text", "text": ["Century Mark: $300", "State: BREAKOUT", "Buy: 300.1", "Stop: 270.0 (-10%)", "Stage: 2 | Grade: A"], "fontSize": 20, "lineHeight": 27, "color": "#2f2b28", "align": "left", "baseline": "top"},
   "encoding": {"x": {"datum": -10.39, "type": "quantitative"},
                "y": {"datum": 320.4, "type": "quantitative"}}},
  {"data": {"values": [{}]}, "mark": {"type": "rect", "fill": "#f4e2d5", "stroke": "#1f5c9e", "strokeWidth": 2.5, "cornerRadius": 7},
   "encoding": {"x": {"datum": 99.13, "type": "quantitative"}, "x2": {"datum": 139.73},
                "y": {"datum": 322.37, "type": "quantitative"}, "y2": {"datum": 315.84}}},
  {"data": {"values": [{}]}, "mark": {"type": "text", "text": "$300 Century Mark", "fontSize": 29, "fontWeight": "bold", "color": "#1f5c9e", "align": "center", "baseline": "middle"},
   "encoding": {"x": {"datum": 119.44, "type": "quantitative"},
                "y": {"datum": 319.1, "type": "quantitative"}}},
  {"data": {"values": [{}]}, "mark": {"type": "rule", "strokeDash": [11, 6], "strokeWidth": 2.6, "color": "#9c1a47"},
   "encoding": {"y": {"datum": 270, "type": "quantitative"}}},
  {"data": {"values": [{}]}, "mark": {"type": "rule", "strokeDash": [11, 6], "strokeWidth": 2.2, "color": "#8c8c8c"},
   "encoding": {"y": {"datum": 300, "type": "quantitative"}}},
  {"data": {"values": [{}]}, "mark": {"type": "rule", "strokeDash": [11, 6], "strokeWidth": 3, "color": "#108a48"},
   "encoding": {"y": {"datum": 300.1, "type": "quantitative"}}},
  {"data": {"name": "bars"}, "mark": {"type": "rule", "strokeWidth": 1.8},
   "encoding": {"x": {"field": "i", "type": "quantitative"},
                "y": {"field": "l", "type": "quantitative"}, "y2": {"field": "h"},
                "color": {"condition": {"test": "datum.c >= datum.o", "value": "#1b7a80"}, "value": "#9c1a47"}}},
  {"data": {"name": "bars"}, "mark": {"type": "bar", "size": 5, "strokeWidth": 1},
   "encoding": {"x": {"field": "i", "type": "quantitative"},
                "y": {"field": "o", "type": "quantitative"}, "y2": {"field": "c"},
                "fill": {"condition": {"test": "datum.c >= datum.o", "value": "#1b7a80"}, "value": "#9c1a47"},
                "stroke": {"condition": {"test": "datum.c >= datum.o", "value": "#1b7a80"}, "value": "#9c1a47"}}},
  {"data": {"name": "sma"}, "mark": {"type": "line"},
   "encoding": {"x": {"field": "i", "type": "quantitative"},
                "y": {"field": "v", "type": "quantitative"},
                "color": {"field": "s", "type": "nominal", "scale": {"domain": ["10 SMA", "20 SMA", "50 SMA", "150 SMA", "200 SMA"], "range": ["#1f55a0", "#ff8a33", "#1a7a78", "#7b0f7e", "#9a1446"]},
                          "legend": {"title": null, "orient": "bottom-right", "offset": 9, "fillColor": "#fdf1e6", "strokeColor": "#e2d2c4", "cornerRadius": 6, "padding": 10, "labelFontSize": 20, "labelColor": "#2f2b28", "symbolType": "M-2.3,0H2.3", "symbolSize": 400, "symbolStrokeWidth": 3, "symbolOffset": 10, "labelOffset": 31, "rowPadding": 13}},
                "strokeWidth": {"field": "s", "type": "nominal", "scale": {"domain": ["10 SMA", "20 SMA", "50 SMA", "150 SMA", "200 SMA"], "range": [2.2, 2.2, 2.8, 3.2, 3.6]}, "legend": null}}},
  {"data": {"values": [{}]}, "mark": {"type": "text", "text": "$300 Mark", "fontSize": 24, "fontWeight": "bold", "color": "#1c1c2c", "align": "right", "baseline": "middle"},
   "encoding": {"x": {"datum": 236.9, "type": "quantitative"},
                "y": {"datum": 303.9, "type": "quantitative"}}},
  {"data": {"values": [{}]}, "mark": {"type": "text", "text": "Buy 300.1", "fontSize": 23, "fontWeight": "bold", "color": "#14a050", "align": "right", "baseline": "middle"},
   "encoding": {"x": {"datum": 236.9, "type": "quantitative"},
                "y": {"datum": 297.2, "type": "quantitative"}}},
  {"data": {"values": [{}]}, "mark": {"type": "text", "text": "Stop 270.0", "fontSize": 23, "fontWeight": "bold", "color": "#9c1a47", "align": "right", "baseline": "middle"},
   "encoding": {"x": {"datum": 236.9, "type": "quantitative"},
                "y": {"datum": 273.7, "type": "quantitative"}}}
 ]
},
{
 "width": 2301, "height": 347,
 "layer": [
  {"data": {"name": "bars"}, "mark": {"type": "bar", "size": 7, "stroke": "#2777b4", "strokeWidth": 1.2},
   "encoding": {"x": {"field": "i", "type": "quantitative", "scale": {"domain": [-12.92, 251.8], "nice": false, "zero": false},
                      "axis": {"values": [0,50,100,150,200,250], "labelExpr": "datum.value == 0 ? '2025-Sep-11' : datum.value == 50 ? '2025-Nov-20' : datum.value == 100 ? '2026-Feb-04' : datum.value == 150 ? '2026-Apr-17' : datum.value == 200 ? '2026-Jun-30' : ''", "labelAngle": -45, "labelAlign": "right", "labelBaseline": "middle", "labelOffset": 18, "labelPadding": 6, "labelFontSize": 23, "tickSize": 9, "grid": true, "domain": false, "title": null}},
                "y": {"field": "v", "type": "quantitative", "scale": {"domain": [0, 250000], "nice": false, "zero": false},
                      "axis": {"orient": "right", "values": [50000,100000,150000,200000,250000], "format": "d", "grid": true, "domain": false, "title": "Volume", "titleAngle": 270, "titleBaseline": "top", "titlePadding": 16, "labelPadding": 10}},
                "fill": {"condition": {"test": "datum.c >= datum.o", "value": "#1b7a80"}, "value": "#9c1a47"}}},
  {"data": {"name": "avgvol"}, "mark": {"type": "line", "strokeWidth": 2.8},
   "encoding": {"x": {"field": "i", "type": "quantitative"},
                "y": {"field": "a", "type": "quantitative"},
                "color": {"datum": "20D Avg Vol", "type": "nominal", "scale": {"domain": ["20D Avg Vol"], "range": ["#2a2826"]},
                          "legend": {"title": null, "orient": "top-left", "offset": 10, "fillColor": "#fdf1e6", "strokeColor": "#e2d2c4", "cornerRadius": 5, "padding": 8, "labelFontSize": 13, "labelColor": "#2f2b28", "symbolType": "M-1.7,0H1.7", "symbolSize": 144, "symbolStrokeWidth": 2.5, "symbolOffset": 6, "labelOffset": 14}}}}
 ]
},
{
 "width": 2301, "height": 340, "view": {"stroke": null},
 "layer": [
  {"data": {"values": [{}]}, "mark": {"type": "text", "text": "vol 1.469 · short 0.0236%", "fontSize": 19, "color": "#6b6560", "align": "center", "baseline": "middle"},
   "encoding": {"x": {"datum": 0.5345, "type": "quantitative", "scale": {"domain": [0, 1]}, "axis": null},
                "y": {"datum": 0.2824, "type": "quantitative", "scale": {"domain": [0, 1]}, "axis": null}}},
  {"data": {"values": [{}]}, "mark": {"type": "text", "text": "CANSLIM Research  ·  https://canslim.blog", "fontSize": 23, "fontWeight": "bold", "color": "#2f2b28", "align": "center", "baseline": "middle"},
   "encoding": {"x": {"datum": 0.5345, "type": "quantitative", "scale": {"domain": [0, 1]}, "axis": null},
                "y": {"datum": 0.1, "type": "quantitative", "scale": {"domain": [0, 1]}, "axis": null}}}
 ]
}
]
}
